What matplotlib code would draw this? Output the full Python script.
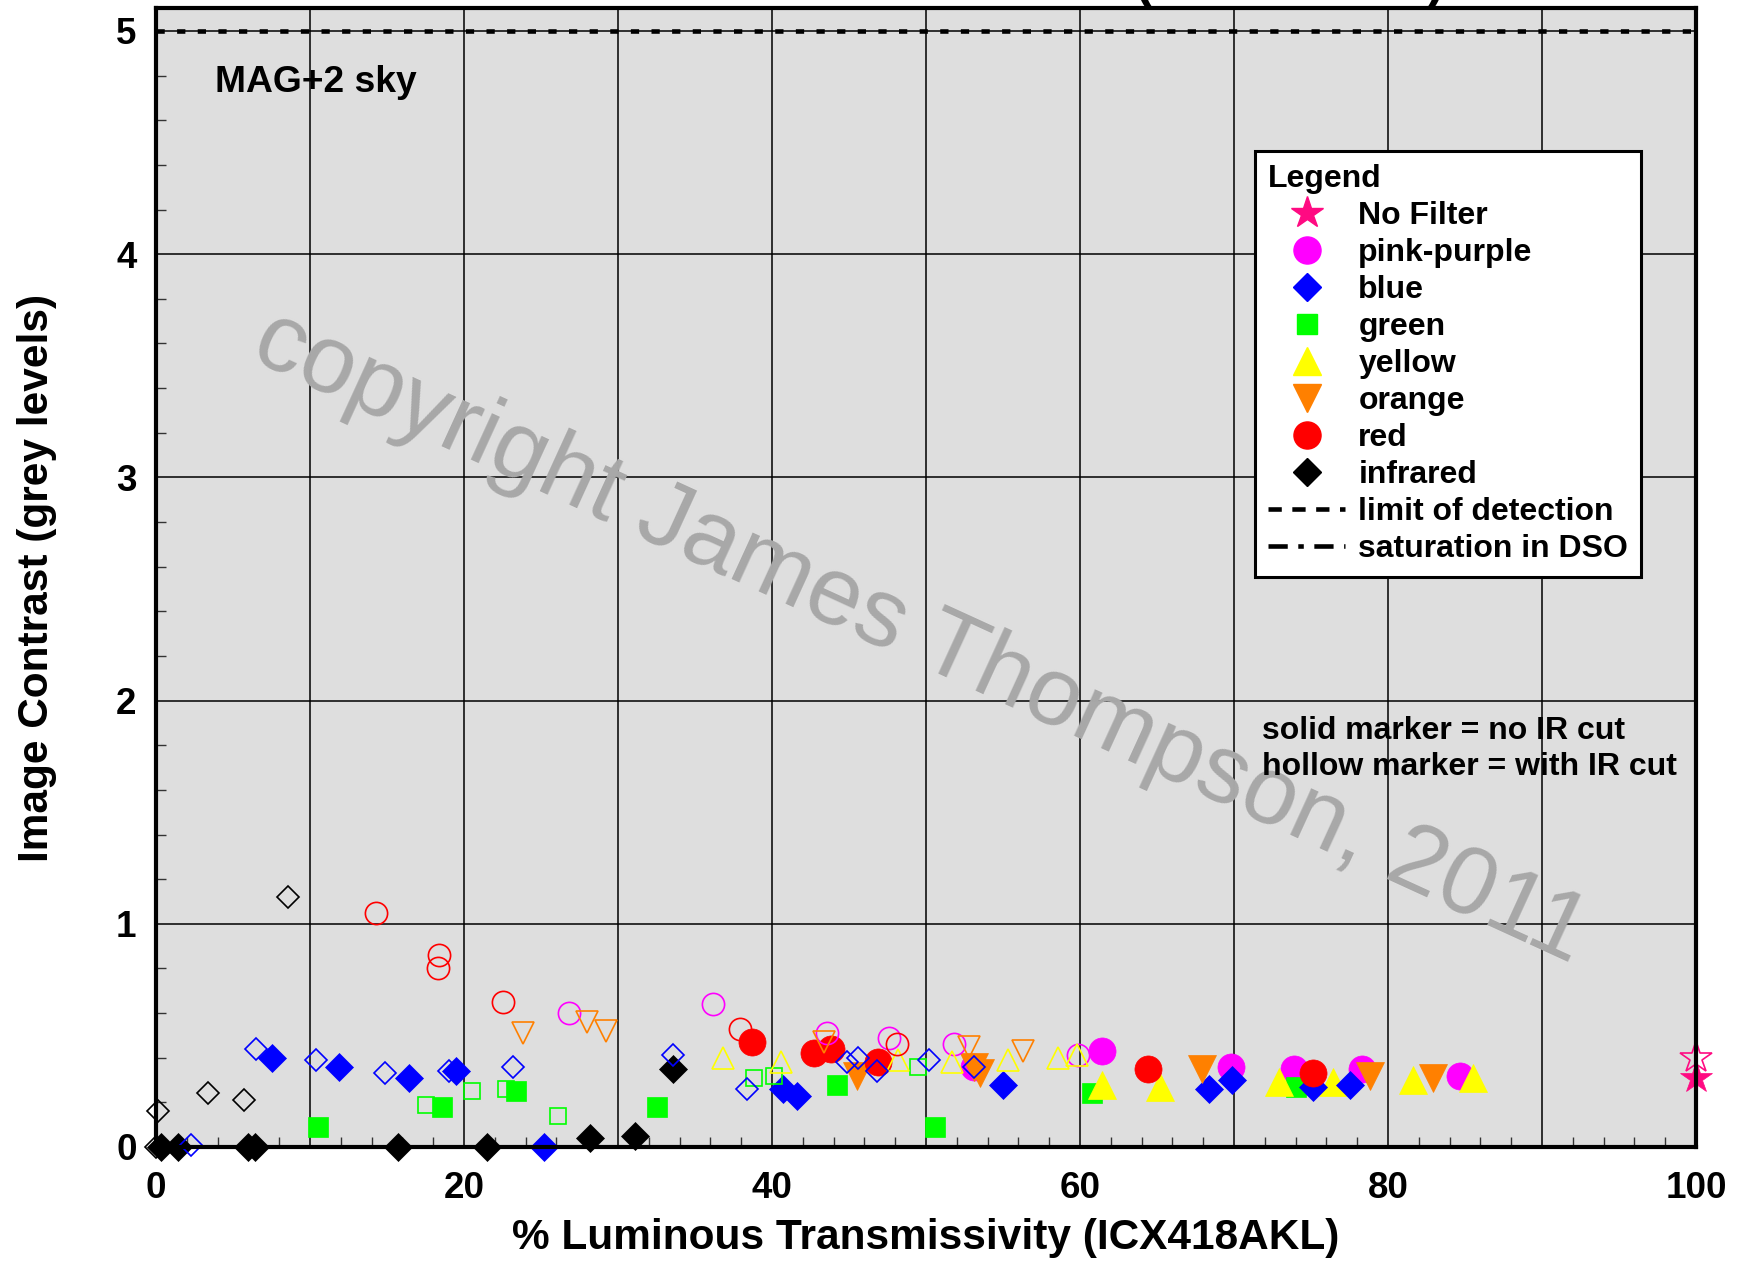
import matplotlib
matplotlib.use('Agg')
import matplotlib.pyplot as plt
from matplotlib.lines import Line2D
from matplotlib.ticker import MultipleLocator, FuncFormatter

plt.rcParams['font.family'] = ['Liberation Sans', 'DejaVu Sans']
plt.rcParams['font.weight'] = 'bold'

# solid = no IR cut, hollow = with IR cut
nofilter_solid_x = [100.0]
nofilter_solid_y = [0.31]
nofilter_hollow_x = [100.0]
nofilter_hollow_y = [0.40]

pink_solid_x = [53.1, 61.4, 69.8, 73.9, 78.3, 84.7]
pink_solid_y = [0.36, 0.43, 0.36, 0.35, 0.35, 0.32]
pink_hollow_x = [26.8, 36.2, 43.6, 47.6, 51.8, 59.9]
pink_hollow_y = [0.60, 0.64, 0.51, 0.49, 0.46, 0.41]

blue_solid_x = [7.5, 11.9, 16.4, 19.5, 25.2, 40.7, 41.6, 55.0, 68.4, 69.9, 75.1, 77.5]
blue_solid_y = [0.40, 0.36, 0.31, 0.34, 0.0, 0.26, 0.23, 0.28, 0.26, 0.30, 0.27, 0.28]
blue_hollow_x = [2.3, 6.5, 10.4, 14.9, 19.0, 23.2, 33.6, 38.4, 44.9, 45.6, 46.8, 50.2, 53.1]
blue_hollow_y = [0.01, 0.44, 0.39, 0.33, 0.34, 0.36, 0.41, 0.26, 0.38, 0.40, 0.34, 0.39, 0.36]

green_solid_x = [10.5, 18.6, 23.4, 32.5, 44.2, 50.6, 60.8, 74.0]
green_solid_y = [0.09, 0.18, 0.25, 0.18, 0.28, 0.09, 0.24, 0.27]
green_hollow_x = [17.5, 20.5, 22.7, 26.1, 38.8, 40.1, 49.5]
green_hollow_y = [0.19, 0.25, 0.26, 0.14, 0.31, 0.32, 0.36]

yellow_solid_x = [61.4, 65.2, 72.9, 76.4, 81.6, 85.5]
yellow_solid_y = [0.28, 0.27, 0.29, 0.29, 0.30, 0.31]
yellow_hollow_x = [36.8, 40.6, 48.2, 51.7, 55.3, 58.6, 59.8]
yellow_hollow_y = [0.40, 0.38, 0.39, 0.38, 0.39, 0.40, 0.41]

orange_solid_x = [45.5, 53.1, 53.5, 67.9, 78.8, 82.9]
orange_solid_y = [0.32, 0.36, 0.33, 0.35, 0.32, 0.31]
orange_hollow_x = [23.8, 28.0, 29.2, 43.4, 52.8, 56.3]
orange_hollow_y = [0.51, 0.56, 0.52, 0.47, 0.45, 0.43]

red_solid_x = [38.7, 42.7, 43.8, 46.9, 64.4, 75.1]
red_solid_y = [0.47, 0.42, 0.44, 0.38, 0.35, 0.33]
red_hollow_x = [14.3, 18.3, 18.4, 22.5, 37.9, 48.1]
red_hollow_y = [1.05, 0.80, 0.86, 0.65, 0.53, 0.46]

ir_solid_x = [0.3, 1.4, 6.0, 6.4, 15.7, 21.5, 28.2, 31.1, 33.6]
ir_solid_y = [0.0, 0.0, 0.0, 0.0, 0.0, 0.0, 0.04, 0.05, 0.35]
ir_hollow_x = [0.0, 0.1, 3.4, 5.7, 8.6]
ir_hollow_y = [0.0, 0.16, 0.24, 0.21, 1.12]

limit_of_detection = 5.0

# drawing order: later series sit on top
series = [
    # label, solid x/y, hollow x/y, marker, colour, solid size, hollow size
    ('pink-purple', pink_solid_x, pink_solid_y, pink_hollow_x, pink_hollow_y, 'o', '#ff00ff', 19.5, 16),
    ('green', green_solid_x, green_solid_y, green_hollow_x, green_hollow_y, 's', '#00ff00', 14.4, 12),
    ('yellow', yellow_solid_x, yellow_solid_y, yellow_hollow_x, yellow_hollow_y, '^', '#ffff00', 19.5, 15.5),
    ('blue', blue_solid_x, blue_solid_y, blue_hollow_x, blue_hollow_y, 'D', '#0000ff', 13.8, 11.2),
    ('orange', orange_solid_x, orange_solid_y, orange_hollow_x, orange_hollow_y, 'v', '#ff8000', 20, 16),
    ('red', red_solid_x, red_solid_y, red_hollow_x, red_hollow_y, 'o', '#ff0000', 19.5, 16),
    ('infrared', ir_solid_x, ir_solid_y, ir_hollow_x, ir_hollow_y, 'D', '#000000', 13.8, 11.2),
    ('No Filter', nofilter_solid_x, nofilter_solid_y, nofilter_hollow_x, nofilter_hollow_y, '*', '#ff0a82', 24, 24),
]

W, H = 1739, 1261
fig = plt.figure(figsize=(W / 100, H / 100), dpi=100)
ax = fig.add_axes([156 / W, 1 - 1147 / H, 1540 / W, 1139 / H])
ax.set_facecolor('#dedede')
ax.set_xlim(0, 100)
ax.set_ylim(0, 5.103)

for i, (lab, sx, sy, hx, hy, m, c, ms, mh) in enumerate(series):
    ax.plot(sx, sy, ls='none', marker=m, ms=ms, mfc=c, mec=c, mew=0.5,
            clip_on=False, zorder=3 + i * 0.01)
for i, (lab, sx, sy, hx, hy, m, c, ms, mh) in enumerate(series):
    ax.plot(hx, hy, ls='none', marker=m, ms=mh, mfc='none', mec=c, mew=1.2,
            clip_on=False, zorder=4 + i * 0.01)

ax.axhline(limit_of_detection, color='black', lw=3.3, dashes=(1.8, 2.7), zorder=2.5)

ax.set_axisbelow(True)
ax.xaxis.set_major_locator(MultipleLocator(10))
ax.xaxis.set_minor_locator(MultipleLocator(2))
ax.yaxis.set_major_locator(MultipleLocator(1))
ax.yaxis.set_minor_locator(MultipleLocator(0.2))
ax.xaxis.set_major_formatter(FuncFormatter(lambda v, p: f'{v:.0f}' if round(v) % 20 == 0 else ''))
ax.grid(True, which='major', color='black', lw=1.1)
ax.tick_params(which='both', direction='in', top=False, right=False, color='#333333')
ax.tick_params(which='major', length=9, width=1.2, labelsize=26.5)
ax.tick_params(axis='x', which='major', pad=17)
ax.tick_params(axis='y', which='major', pad=14)
ax.tick_params(which='minor', length=7, width=1.0)
for lbl in ax.get_xticklabels() + ax.get_yticklabels():
    lbl.set_fontweight('bold')
for sp in ax.spines.values():
    sp.set_linewidth(3)
    sp.set_zorder(6)

ax.set_xlabel('% Luminous Transmissivity (ICX418AKL)', fontsize=30.5, fontweight='bold')
ax.set_ylabel('Image Contrast (grey levels)', fontsize=30.5, fontweight='bold')
ax.xaxis.set_label_coords(0.5, -0.062)
ax.yaxis.set_label_coords(-0.064, 0.5)

# watermark
fig.text(920 / W, 1 - 638 / H, 'copyright James Thompson, 2011', fontsize=70,
         fontweight='normal', color='#a8a8a8', rotation=-24.6,
         ha='center', va='center', zorder=1)

fig.text(215 / W, 1 - 92 / H, 'MAG+2 sky', fontsize=26.8, fontweight='bold', va='baseline')
fig.text(1262 / W, 1 - 739 / H, 'solid marker = no IR cut', fontsize=23, fontweight='bold', va='baseline')
fig.text(1262 / W, 1 - 775 / H, 'hollow marker = with IR cut', fontsize=23, fontweight='bold', va='baseline')

# title cut off by the top edge, only the parentheses show
fig.text(1290 / W, 1 + 4 / H, '(ICX418AKL)', fontsize=37, fontweight='bold', ha='center', va='baseline')

legend_order = ['No Filter', 'pink-purple', 'blue', 'green', 'yellow', 'orange', 'red', 'infrared']
lookup = {s[0]: s for s in series}
handles = []
for name in legend_order:
    lab, sx, sy, hx, hy, m, c, ms, mh = lookup[name]
    handles.append(Line2D([], [], ls='none', marker=m, ms=ms, mfc=c, mec=c, label=name))
handles.append(Line2D([], [], color='black', lw=3.3, dashes=(2.9, 2.3), label='limit of detection'))
handles.append(Line2D([], [], color='black', lw=3.3, dashes=(4.2, 2.3, 1.2, 2.3), label='saturation in DSO'))

leg = ax.legend(handles=handles, title='Legend', loc='upper right',
                bbox_to_anchor=(1641 / W, 1 - 151 / H), bbox_transform=fig.transFigure,
                borderaxespad=0, fontsize=23, title_fontproperties={'weight': 'bold', 'size': 23},
                handlelength=2.4, handletextpad=0.42, labelspacing=0.22, borderpad=0.4,
                fancybox=False, framealpha=1, edgecolor='black', facecolor='white')
leg.get_frame().set_linewidth(2.2)
leg._legend_box.align = 'left'
leg.set_zorder(10)
for t in leg.get_texts():
    t.set_fontweight('bold')

fig.savefig('out.png', dpi=100, facecolor='white')
